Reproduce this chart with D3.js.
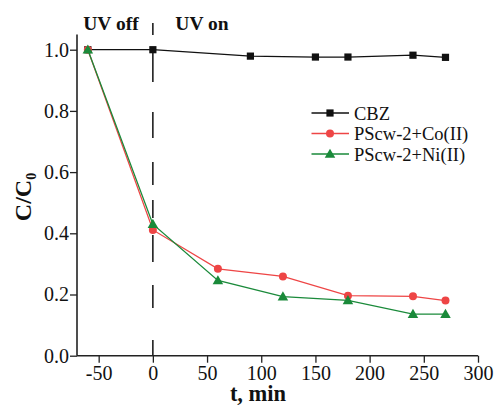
<!DOCTYPE html>
<html><head><meta charset="utf-8">
<script src="https://cdn.jsdelivr.net/npm/d3@7"></script>
<style>body{margin:0;background:#fff}svg{display:block}</style>
</head><body>
<script>
const times = [-60, 0, 90, 150, 180, 240, 270];
const timesCat = [-60, 0, 60, 120, 180, 240, 270];
const cbz = [1.0, 1.0, 0.979, 0.976, 0.976, 0.982, 0.975];
const co = [1.0, 0.411, 0.284, 0.259, 0.196, 0.194, 0.180];
const ni = [1.0, 0.430, 0.246, 0.193, 0.181, 0.136, 0.136];
const xTicks = [-50, 0, 50, 100, 150, 200, 250, 300];
const yTicks = [0.0, 0.2, 0.4, 0.6, 0.8, 1.0];
const seriesNames = ["CBZ", "PScw-2+Co(II)", "PScw-2+Ni(II)"];

const FONT = '"Liberation Serif", "Times New Roman", Tinos, Times, serif';
const W = 495, H = 406;
const svg = d3.select("body").append("svg").attr("width", W).attr("height", H);
const x = d3.scaleLinear().domain([-70, 300]).range([77, 478]);
const y = d3.scaleLinear().domain([0, 1.05]).range([355.7, 34.4]);

// axes
const xMinor = d3.range(-50, 301, 25);
const yMinor = d3.range(0, 1.01, 0.1);
const gx = svg.append("g").attr("transform", `translate(0,${y(0)})`);
gx.call(d3.axisBottom(x).tickValues(xMinor).tickSize(4).tickFormat(""));
gx.call(d3.axisBottom(x).tickValues(xTicks).tickSize(7).tickPadding(3).tickFormat(d3.format("d")));
gx.select(".domain").remove();
gx.append("line").attr("x1", x(-70)).attr("x2", x(300)).attr("stroke", "#222").attr("stroke-width", 1.6);
const gy = svg.append("g").attr("transform", `translate(${x(-70)},0)`);
gy.call(d3.axisLeft(y).tickValues(yMinor).tickSize(4).tickFormat(""));
gy.call(d3.axisLeft(y).tickValues(yTicks).tickSize(7).tickPadding(1).tickFormat(d3.format(".1f")));
gy.select(".domain").remove();
gy.append("line").attr("y1", y(0)).attr("y2", y(1.05)).attr("stroke", "#222").attr("stroke-width", 1.6);
svg.selectAll("g").attr("font-family", FONT);
svg.selectAll(".tick line").attr("stroke", "#222").attr("stroke-width", 1.3);
svg.selectAll(".tick text").attr("font-size", 20).attr("font-family", FONT).attr("fill", "#111");
gx.selectAll(".tick text").text(d => d < 0 ? "-" + Math.abs(d) : d);

// dashed divider at t=0
svg.append("line").attr("x1", x(0)).attr("x2", x(0)).attr("y1", 23).attr("y2", y(0))
  .attr("stroke", "#111").attr("stroke-width", 1.5).attr("stroke-dasharray", "12,13,34,30,26,24,23,15,18,17,27,23,23,32,15");

const colors = ["#111111", "#ee4545", "#1a8a3a"];
const data = [times.map((t, i) => [t, cbz[i]]), timesCat.map((t, i) => [t, co[i]]), timesCat.map((t, i) => [t, ni[i]])];
const line = d3.line().x(d => x(d[0])).y(d => y(d[1]));
const tri = d3.symbol().type(d3.symbolTriangle).size(48);

function marker(g, k, cx, cy) {
  if (k === 0) g.append("rect").attr("x", cx - 3.6).attr("y", cy - 3.6).attr("width", 7.2).attr("height", 7.2).attr("fill", colors[0]);
  else if (k === 1) g.append("circle").attr("cx", cx).attr("cy", cy).attr("r", 4).attr("fill", colors[1]);
  else g.append("path").attr("d", tri()).attr("transform", `translate(${cx},${cy + 0.8})`).attr("fill", colors[2]);
}

data.forEach((s, k) => {
  const g = svg.append("g");
  g.append("path").attr("d", line(s)).attr("fill", "none").attr("stroke", colors[k]).attr("stroke-width", 1.3);
  s.forEach(d => marker(g, k, x(d[0]), y(d[1])));
});

function txt(xp, yp, s, size, bold, anchor) {
  return svg.append("text").attr("x", xp).attr("y", yp).attr("font-family", FONT).attr("font-size", size)
    .attr("font-weight", bold ? "bold" : "normal").attr("text-anchor", anchor || "start").attr("fill", "#111").text(s);
}

// legend
const ly = [113, 133.5, 154];
seriesNames.forEach((n, k) => {
  const g = svg.append("g");
  g.append("line").attr("x1", 311.5).attr("x2", 349).attr("y1", ly[k]).attr("y2", ly[k]).attr("stroke", colors[k]).attr("stroke-width", 1.3);
  marker(g, k, 330, ly[k]);
  txt(354, ly[k] + 6.5, n, 18.5, false);
});

// labels
txt(111, 30, "UV off", 19.5, true, "middle");
txt(202, 30, "UV on", 19.5, true, "middle");
txt(258, 401, "t, min", 22.5, true, "middle");
const yl = svg.append("text").attr("transform", "translate(31,197) rotate(-90)").attr("text-anchor", "middle")
  .attr("font-family", FONT).attr("font-size", 24).attr("font-weight", "bold").attr("fill", "#111");
yl.append("tspan").text("C/C");
yl.append("tspan").attr("dy", 5).attr("font-size", 14).text("0");
</script>
</body></html>
